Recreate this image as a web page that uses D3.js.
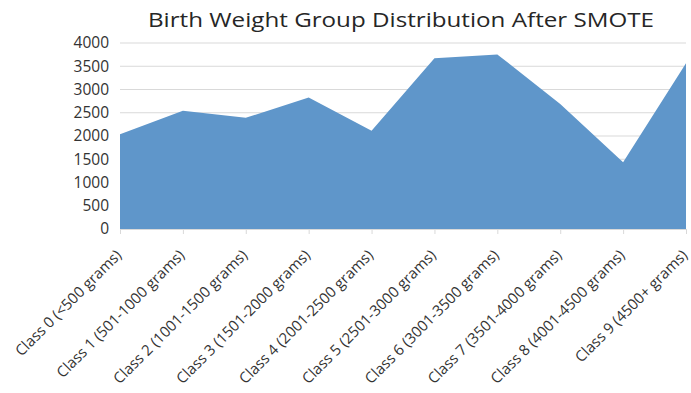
<!DOCTYPE html>
<html>
<head>
<meta charset="utf-8">
<script src="https://cdn.jsdelivr.net/npm/d3@7"></script>
<style>
  html, body { margin: 0; padding: 0; background: #fff; }
  svg { display: block; }
</style>
</head>
<body>
<svg id="chart" width="691" height="393"></svg>
<script>
// Sample counts per birth-weight class after SMOTE oversampling
const categories = [
  "Class 0 (<500 grams)",
  "Class 1 (501-1000 grams)",
  "Class 2 (1001-1500 grams)",
  "Class 3 (1501-2000 grams)",
  "Class 4 (2001-2500 grams)",
  "Class 5 (2501-3000 grams)",
  "Class 6 (3001-3500 grams)",
  "Class 7 (3501-4000 grams)",
  "Class 8 (4001-4500 grams)",
  "Class 9 (4500+ grams)"
];
const counts = [2035, 2545, 2390, 2830, 2115, 3670, 3755, 2690, 1435, 3565];
const yTicks = [0, 500, 1000, 1500, 2000, 2500, 3000, 3500, 4000];
const title = "Birth Weight Group Distribution After SMOTE";

const svg = d3.select("#chart");
const margin = { left: 120, right: 5, top: 43, bottom: 164 };
const W = 691, H = 393;

const x = d3.scalePoint().domain(categories).range([margin.left, W - margin.right]);
const y = d3.scaleLinear().domain([0, 4000]).range([H - margin.bottom, margin.top]);

const font = "'Open Sans', sans-serif";

// title
svg.append("text")
  .attr("x", 401).attr("y", 27)
  .attr("text-anchor", "middle")
  .attr("font-family", font)
  .attr("font-size", 19.5)
  .attr("fill", "#262626")
  .attr("textLength", 506)
  .attr("lengthAdjust", "spacingAndGlyphs")
  .text(title);

// horizontal gridlines
svg.append("g")
  .selectAll("line")
  .data(yTicks.filter(d => d > 0))
  .join("line")
  .attr("x1", margin.left).attr("x2", W - margin.right)
  .attr("y1", d => y(d)).attr("y2", d => y(d))
  .attr("stroke", "#d9d9d9").attr("stroke-width", 1);

// filled area
const area = d3.area()
  .x((d, i) => x(categories[i]))
  .y0(y(0))
  .y1(d => y(d));
svg.append("path")
  .datum(counts)
  .attr("d", area)
  .attr("fill", "#5f96ca");

// y axis labels
const yAxis = d3.axisLeft(y).tickValues(yTicks).tickFormat(d3.format("d"))
  .tickSize(0).tickPadding(11);
const gy = svg.append("g").attr("transform", `translate(${margin.left},0)`).call(yAxis);
gy.select(".domain").remove();
gy.selectAll("text")
  .attr("font-family", font).attr("font-size", 15.5).attr("fill", "#333");

// x axis
const xAxis = d3.axisBottom(x).tickSize(5).tickPadding(0);
const gx = svg.append("g").attr("transform", `translate(0,${y(0)})`).call(xAxis);
gx.select(".domain").attr("stroke", "#d9d9d9");
gx.selectAll(".tick line").attr("stroke", "#d9d9d9");
gx.selectAll("text")
  .attr("font-family", font).attr("font-size", 15).attr("fill", "#333")
  .attr("text-anchor", "end")
  .attr("x", 0).attr("y", 0).attr("dy", 0)
  .attr("transform", "translate(2,27) rotate(-45)");
</script>
</body>
</html>
